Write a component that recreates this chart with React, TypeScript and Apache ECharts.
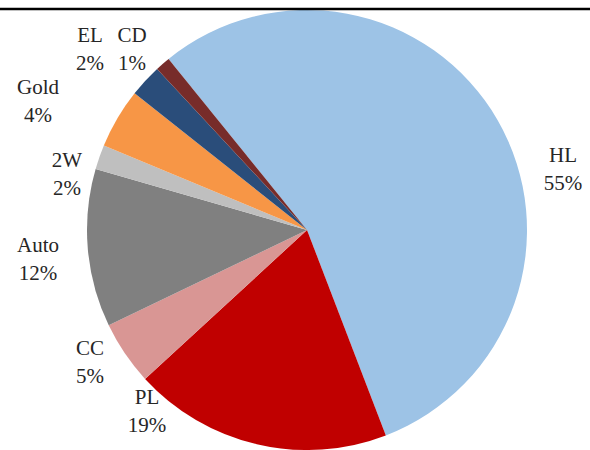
import React, { useEffect, useRef } from "react";
import * as echarts from "echarts";

// Loan book mix by product (% of total)
const categories = ["HL", "PL", "CC", "Auto", "2W", "Gold", "EL", "CD"];
const shares = [55, 19, 4.7, 11.6, 1.8, 4.4, 2.4, 1.1];
const colors = ["#9DC3E6", "#C00000", "#D99694", "#808080", "#BFBFBF", "#F79646", "#2A4D7A", "#772C2A"];

// where each two-line label sits (block centre, in px)
const labelSpots: [number, number][] = [
  [563, 169],
  [147, 411],
  [90, 362],
  [38, 259],
  [67, 174],
  [38, 101],
  [90, 49],
  [132, 49],
];

export default function App() {
  const ref = useRef<HTMLDivElement>(null);

  useEffect(() => {
    if (!ref.current) return;
    const chart = echarts.init(ref.current, undefined, { renderer: "svg" });
    chart.setOption({
      animation: false,
      backgroundColor: "#ffffff",
      graphic: [
        {
          type: "line",
          shape: { x1: 0, y1: 9, x2: 590, y2: 9 },
          style: { stroke: "#000000", lineWidth: 2.5 },
          z: 10,
        },
      ],
      series: [
        {
          type: "pie",
          center: [307, 230],
          radius: 220,
          startAngle: 129,
          clockwise: true,
          avoidLabelOverlap: false,
          itemStyle: { borderWidth: 0 },
          emphasis: { disabled: true },
          labelLine: { show: false },
          label: {
            show: true,
            position: "outside",
            color: "#262626",
            fontFamily: "Liberation Serif",
            fontSize: 21,
            lineHeight: 28,
            align: "center",
            formatter: (p: any) => `${p.name}\n${Math.round(p.percent)}%`,
          },
          labelLayout: (p: any) => {
            const s = labelSpots[p.dataIndex];
            return { x: s[0], y: s[1], align: "center", verticalAlign: "middle" };
          },
          data: categories.map((name, i) => ({
            name,
            value: shares[i],
            itemStyle: { color: colors[i] },
          })),
        },
      ],
    });
    return () => chart.dispose();
  }, []);

  return (
    <div
      ref={ref}
      style={{ position: "fixed", left: 0, top: 0, width: 590, height: 450 }}
    />
  );
}
